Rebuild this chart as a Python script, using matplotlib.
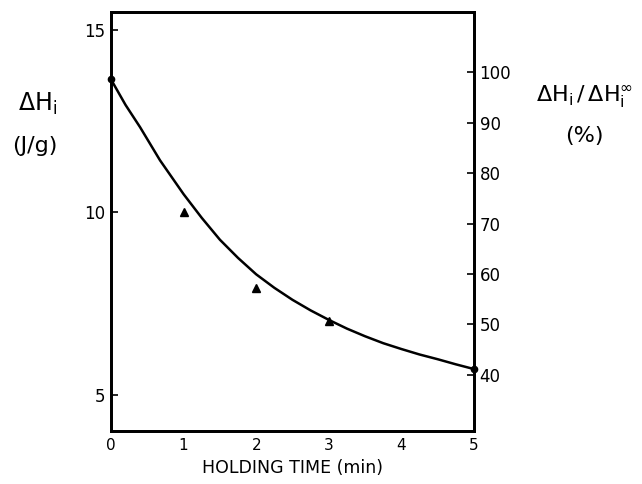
import numpy as np
import matplotlib
matplotlib.use("Agg")
import matplotlib.pyplot as plt

# measured points (holding time in min, enthalpy in J/g)
tri_x = [1, 2, 3]
tri_y = [10.0, 7.92, 7.03]
dot_x = [0, 5]
dot_y = [13.65, 5.7]

# fitted curve
curve_x = [0, 0.2, 0.4, 0.675, 1.0, 1.25, 1.5, 1.75, 2.0, 2.25, 2.5, 2.75,
           3.0, 3.25, 3.5, 3.75, 4.0, 4.25, 4.5, 4.75, 5.0]
curve_y = [13.65, 12.95, 12.34, 11.43, 10.5, 9.85, 9.25, 8.75, 8.3, 7.93, 7.6, 7.31,
           7.05, 6.81, 6.6, 6.41, 6.25, 6.1, 5.97, 5.83, 5.7]

h_inf = 13.85  # J/g corresponding to 100 %

left_ticks = [5, 10, 15]
right_ticks = [40, 50, 60, 70, 80, 90, 100]
x_ticks = [0, 1, 2, 3, 4, 5]

fig = plt.figure(figsize=(6.42, 4.84), dpi=100)
ax = fig.add_axes([0.1729, 0.1095, 0.5654, 0.8657])

ax.plot(curve_x, curve_y, color="black", lw=1.8, solid_capstyle="round")
ax.plot(tri_x, tri_y, "^", color="black", ms=5.5, clip_on=False)
ax.plot(dot_x, dot_y, "o", color="black", ms=4.5, clip_on=False)

ax.set_xlim(0, 5)
ax.set_ylim(4.0, 15.5)
ax.set_xticks(x_ticks)
ax.set_yticks(left_ticks)
ax.tick_params(axis="x", length=0, labelsize=11, pad=5)
ax.tick_params(axis="y", direction="in", length=5, width=1.2, labelsize=12, pad=4)

ax2 = ax.twinx()
ax2.set_ylim(4.0 / h_inf * 100, 15.5 / h_inf * 100)
ax2.set_yticks(right_ticks)
ax2.tick_params(axis="y", direction="in", length=5, width=1.2, labelsize=12, pad=4)

for a in (ax, ax2):
    for s in a.spines.values():
        s.set_linewidth(2.0)

ax.set_xlabel("HOLDING TIME (min)", fontsize=12.5, labelpad=4)

fig.text(0.058, 0.785, r"$\mathregular{\Delta H_i}$", fontsize=17, ha="center", va="center")
fig.text(0.055, 0.698, "(J/g)", fontsize=16, ha="center", va="center")
fig.text(0.91, 0.80, r"$\mathregular{\Delta H_i\,/\,\Delta H_i^{\infty}}$", fontsize=16,
         ha="center", va="center")
fig.text(0.91, 0.72, "(%)", fontsize=16, ha="center", va="center")

fig.savefig("out.png", dpi=100)
